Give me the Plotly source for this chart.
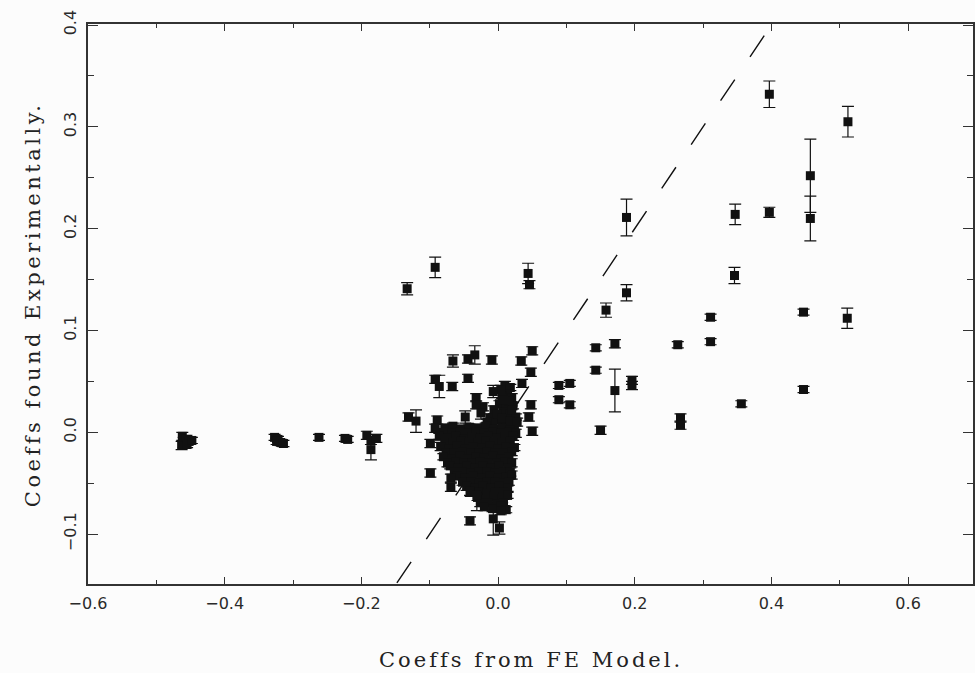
import plotly.graph_objects as go

# Coefficients predicted by the finite-element model (x) against the values
# measured experimentally (y), with the experimental uncertainty (err).

# Isolated coefficients, spread across the range
outlier_fe = [
    -0.462, -0.460, -0.456, -0.452, -0.463, -0.455, -0.448,
    -0.327, -0.322, -0.318, -0.324, -0.314,
    -0.262, -0.224, -0.220,
    -0.192, -0.186, -0.186, -0.178,
    -0.133, -0.092, 0.044, 0.046,
    -0.131, -0.120, -0.089, -0.092, -0.099, -0.099, -0.069, -0.069,
    -0.041, -0.031, -0.041, -0.007, 0.002, 0.004,
    -0.066, -0.044, -0.034, -0.009, 0.034, 0.050, 0.048,
    -0.092, -0.086, -0.067, -0.044, -0.032, -0.007, -0.022,
    0.035, 0.048, 0.045, 0.050, -0.048, -0.032, -0.025,
    0.089, 0.105, 0.089, 0.105, 0.143, 0.143, 0.171, 0.171,
    0.196, 0.196, 0.150, 0.158, 0.188, 0.188,
    0.263, 0.267, 0.267, 0.311, 0.311, 0.346, 0.347, 0.356,
    0.397, 0.397, 0.447, 0.447, 0.457, 0.457, 0.511, 0.512,
]
outlier_exp = [
    -0.004, -0.010, -0.007, -0.009, -0.013, -0.012, -0.008,
    -0.005, -0.007, -0.010, -0.009, -0.011,
    -0.005, -0.006, -0.007,
    -0.003, -0.008, -0.017, -0.006,
    0.141, 0.162, 0.156, 0.145,
    0.015, 0.011, 0.012, 0.004, -0.011, -0.040, -0.045, -0.054,
    -0.058, -0.062, -0.087, -0.085, -0.094, -0.077,
    0.070, 0.072, 0.076, 0.071, 0.070, 0.080, 0.059,
    0.052, 0.045, 0.045, 0.053, 0.034, 0.040, 0.025,
    0.048, 0.027, 0.015, 0.001, 0.015, 0.027, 0.019,
    0.046, 0.048, 0.032, 0.027, 0.083, 0.061, 0.087, 0.041,
    0.051, 0.046, 0.002, 0.120, 0.137, 0.211,
    0.086, 0.014, 0.007, 0.113, 0.089, 0.154, 0.214, 0.028,
    0.332, 0.216, 0.118, 0.042, 0.252, 0.210, 0.112, 0.305,
]
outlier_err = [
    0.004, 0.005, 0.004, 0.003, 0.004, 0.003, 0.003,
    0.003, 0.003, 0.003, 0.003, 0.003,
    0.003, 0.003, 0.003,
    0.004, 0.004, 0.010, 0.004,
    0.006, 0.010, 0.010, 0.004,
    0.004, 0.011, 0.004, 0.004, 0.004, 0.004, 0.004, 0.004,
    0.004, 0.015, 0.004, 0.016, 0.006, 0.004,
    0.006, 0.004, 0.009, 0.004, 0.004, 0.004, 0.004,
    0.004, 0.011, 0.004, 0.004, 0.004, 0.006, 0.004,
    0.004, 0.004, 0.004, 0.004, 0.006, 0.004, 0.006,
    0.003, 0.003, 0.003, 0.003, 0.003, 0.003, 0.004, 0.021,
    0.004, 0.004, 0.004, 0.007, 0.008, 0.018,
    0.003, 0.004, 0.004, 0.003, 0.003, 0.008, 0.010, 0.003,
    0.013, 0.005, 0.003, 0.003, 0.036, 0.022, 0.010, 0.015,
]

# Dense group of small coefficients around the origin
core_fe = [
    0.010, 0.018, 0.014, 0.006, 0.020, 0.002, 0.012, 0.022,
    -0.006, 0.008, 0.018, 0.026, -0.012, 0.000, 0.012, 0.024,
    0.004, 0.016, 0.008, -0.002, 0.020, 0.006, 0.018, -0.008, 0.028, -0.016,
    -0.078, -0.066, -0.054, -0.042, -0.030, -0.018, -0.006, 0.006, 0.018,
    -0.080, -0.068, -0.056, -0.044, -0.032, -0.020, -0.008, 0.004, 0.016, 0.026,
    -0.086, -0.074, -0.062, -0.050, -0.038, -0.026, -0.014, -0.002, 0.010, 0.022,
    -0.078, -0.066, -0.054, -0.042, -0.030, -0.018, -0.006, 0.006, 0.018,
    -0.084, -0.072, -0.060, -0.048, -0.036, -0.024, -0.012, 0.000, 0.012, 0.024,
    -0.076, -0.064, -0.052, -0.040, -0.028, -0.016, -0.004, 0.008, 0.020,
    -0.080, -0.068, -0.056, -0.044, -0.032, -0.020, -0.008, 0.004, 0.016,
    -0.074, -0.062, -0.050, -0.038, -0.026, -0.014, -0.002, 0.010, 0.020,
    -0.070, -0.058, -0.046, -0.034, -0.022, -0.010, 0.002, 0.014,
    -0.064, -0.052, -0.040, -0.028, -0.016, -0.004, 0.008, 0.018,
    -0.060, -0.048, -0.036, -0.024, -0.012, 0.000, 0.012, 0.020,
    -0.052, -0.040, -0.028, -0.016, -0.004, 0.008, 0.016,
    -0.046, -0.034, -0.022, -0.010, 0.002, 0.014,
    -0.040, -0.028, -0.016, -0.004, 0.008,
    -0.030, -0.018, -0.006, 0.006, 0.014,
    -0.026, -0.014, -0.002, 0.008,
    -0.020, -0.008, 0.004, 0.012,
]
core_exp = [
    0.046, 0.044, 0.038, 0.036, 0.034, 0.028, 0.028, 0.026,
    0.022, 0.020, 0.018, 0.015, 0.014, 0.012, 0.010, 0.006,
    0.042, 0.031, 0.032, 0.018, 0.022, 0.014, 0.011, 0.009, 0.010, 0.010,
    0.004, 0.006, 0.003, 0.005, 0.004, 0.006, 0.003, 0.004, 0.002,
    0.000, -0.001, 0.000, -0.001, 0.000, -0.001, 0.000, -0.001, 0.000, -0.001,
    -0.004, -0.006, -0.004, -0.007, -0.005, -0.006, -0.004, -0.006, -0.005, -0.004,
    -0.010, -0.010, -0.009, -0.010, -0.010, -0.009, -0.010, -0.010, -0.009,
    -0.014, -0.016, -0.013, -0.016, -0.014, -0.015, -0.013, -0.016, -0.014, -0.015,
    -0.020, -0.020, -0.019, -0.020, -0.020, -0.019, -0.020, -0.020, -0.019,
    -0.024, -0.026, -0.023, -0.026, -0.024, -0.025, -0.023, -0.026, -0.024,
    -0.030, -0.029, -0.030, -0.030, -0.029, -0.030, -0.030, -0.029, -0.030,
    -0.033, -0.035, -0.033, -0.035, -0.033, -0.035, -0.033, -0.035,
    -0.039, -0.039, -0.040, -0.039, -0.039, -0.040, -0.039, -0.039,
    -0.043, -0.045, -0.043, -0.045, -0.043, -0.045, -0.044, -0.042,
    -0.049, -0.049, -0.050, -0.049, -0.049, -0.050, -0.049,
    -0.053, -0.055, -0.053, -0.055, -0.053, -0.055,
    -0.059, -0.059, -0.060, -0.059, -0.059,
    -0.064, -0.066, -0.063, -0.065, -0.062,
    -0.069, -0.069, -0.070, -0.069,
    -0.073, -0.075, -0.072, -0.076,
]
core_err = [0.004, 0.003, 0.004, 0.003, 0.004, 0.003, 0.004, 0.003, 0.004, 0.003] * 20

# Extent of the line of perfect agreement (y = x), edge to edge of the frame
identity_span = [-0.148, 0.401]

x_ticks = [-0.6, -0.4, -0.2, 0.0, 0.2, 0.4, 0.6]
y_ticks = [-0.1, 0.0, 0.1, 0.2, 0.3, 0.4]

ink = "#111111"
frame = "#333333"

fig = go.Figure()

fig.add_trace(go.Scatter(
    x=identity_span, y=identity_span, mode="lines",
    line=dict(color=ink, width=1.4, dash="25.5px,27.3px"),
    hoverinfo="skip", showlegend=False,
))

fig.add_trace(go.Scatter(
    x=core_fe + outlier_fe, y=core_exp + outlier_exp, mode="markers",
    marker=dict(symbol="square", size=9, color=ink, line=dict(width=0)),
    error_y=dict(type="data", array=core_err[:len(core_fe)] + outlier_err,
                 visible=True, color=ink, thickness=1.2, width=6),
    showlegend=False,
))

axis_common = dict(
    showgrid=False, zeroline=False, showline=True, linecolor=frame,
    linewidth=1.5, mirror="allticks", ticks="inside", tickcolor=frame,
    tickwidth=1.3, tickformat=".1f",
    tickfont=dict(family="DejaVu Sans", size=16, color="#2a2a2a"),
)

fig.update_xaxes(
    range=[-0.6, 0.695], tickvals=x_ticks, ticklen=7, ticklabelstandoff=4,
    minor=dict(dtick=0.1, ticks="inside", ticklen=4, tickcolor=frame, tickwidth=1.2),
    **axis_common,
)
fig.update_yaxes(
    range=[-0.149, 0.401], tickvals=y_ticks, ticklen=10, tickangle=-90,
    ticklabelstandoff=4,
    minor=dict(dtick=0.05, ticks="inside", ticklen=6, tickcolor=frame, tickwidth=1.2),
    **axis_common,
)

title_font = dict(family="DejaVu Serif", size=21, color="#222222")
fig.add_annotation(
    text='<span style="letter-spacing:3px">Coeffs from FE Model.</span>',
    xref="paper", yref="paper", x=0.5, y=-0.136, xanchor="center",
    yanchor="middle", showarrow=False, font=title_font,
)
fig.add_annotation(
    text='<span style="letter-spacing:3.5px">Coeffs found Experimentally.</span>',
    xref="paper", yref="paper", x=-0.062, y=0.5, xanchor="center",
    yanchor="middle", textangle=-90, showarrow=False, font=title_font,
)

fig.update_layout(
    width=975, height=673,
    margin=dict(l=88, r=0, t=24, b=89),
    paper_bgcolor="#fcfcfc", plot_bgcolor="#fcfcfc",
)

fig.write_html("out.html")
